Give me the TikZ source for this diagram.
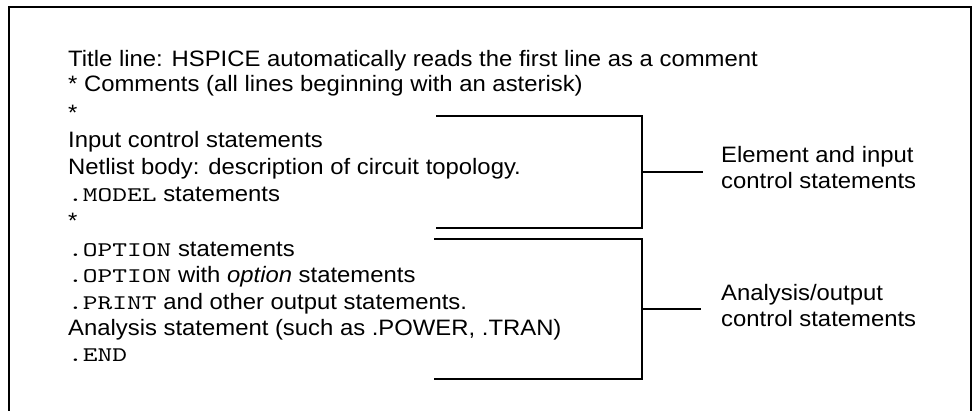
\documentclass[tikz,border=0pt]{standalone}
\usepackage{fontspec}
\setmainfont{Liberation Sans}[FakeStretch=1.07]
\setmonofont{lmmono10-regular.otf}[FakeStretch=1.35]
% keywords of the netlist language, set in a typewriter face
\newcommand\netkw[1]{{\fontsize{20.8}{26}\selectfont\ttfamily #1}}
\begin{document}
\begin{tikzpicture}[x=1pt,y=-1pt,
  txt/.style={anchor=base west, inner sep=0pt, font=\fontsize{22.3}{26.8}\selectfont},
  side/.style={anchor=north west, align=left, inner sep=0pt, font=\fontsize{22.3}{26}\selectfont},
  frame/.style={line width=2pt},
  bracket/.style={line width=1.7pt}]
\useasboundingbox (0,0) rectangle (975,411);
\clip (0,0) rectangle (975,411);

% outer frame, open at the bottom
\draw[frame] (8.5,420) -- (8.5,7) -- (971,7) -- (971,420);

% netlist lines
\node[txt] (l1)  at (68,67)    {Title line: HSPICE automatically reads the first line as a comment};
\node[txt] (l2)  at (68,92)    {* Comments (all lines beginning with an asterisk)};
\node[txt] (l3)  at (68,121)   {*};
\node[txt] (l4)  at (68,148)   {Input control statements};
\node[txt] (l5)  at (68,174.5) {Netlist body: description of circuit topology.};
\node[txt] (l6)  at (68,201.5) {\netkw{.MODEL} statements};
\node[txt] (l7)  at (68,229)   {*};
\node[txt] (l8)  at (68,256.5) {\netkw{.OPTION} statements};
\node[txt] (l9)  at (68,283)   {\netkw{.OPTION} with \textit{option} statements};
\node[txt] (l10) at (68,309.5) {\netkw{.PRINT} and other output statements.};
\node[txt] (l11) at (68,335.5) {Analysis statement (such as .POWER, .TRAN)};
\node[txt] (l12) at (68,362)   {\netkw{.END}};

% first bracket: element and input control statements
\coordinate (a1) at (436,116);
\coordinate (a2) at (642,116);
\coordinate (a3) at (642,228);
\coordinate (a4) at (436,228);
\coordinate (am) at (642,172);
\coordinate (ae) at (703,172);
\draw[bracket] (a1) -- (a2) -- (a3) -- (a4);
\node[side] (s1) at (721,146) {Element and input\\control statements};
\draw[bracket] (am) -- (ae);

% second bracket: analysis/output control statements
\coordinate (b1) at (434,239);
\coordinate (b2) at (642,239);
\coordinate (b3) at (642,379);
\coordinate (b4) at (434,379);
\coordinate (bm) at (642,309);
\coordinate (be) at (701,309);
\draw[bracket] (b1) -- (b2) -- (b3) -- (b4);
\node[side] (s2) at (721,284) {Analysis/output\\control statements};
\draw[bracket] (bm) -- (be);
\end{tikzpicture}
\end{document}
